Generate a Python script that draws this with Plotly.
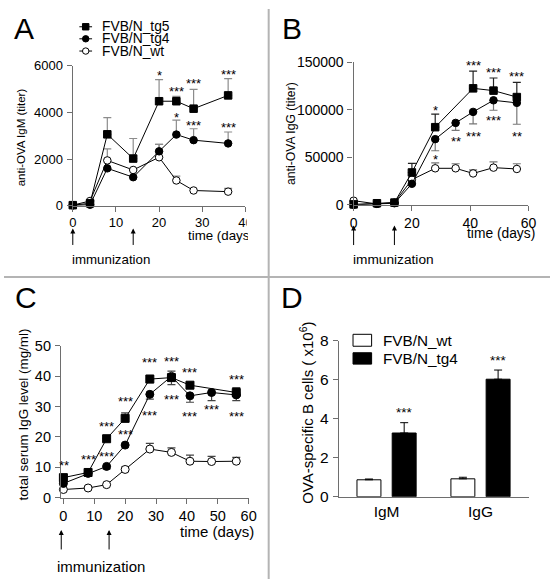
import plotly.graph_objects as go

W, H = 558, 587
FONT = "Liberation Sans, Arial, Helvetica, sans-serif"
AX = "#6e6e6e"

def px(x):
    return x / W

def py(y):
    return 1 - y / H

SERIES = ["FVB/N_tg5", "FVB/N_tg4", "FVB/N_wt"]

# ---------------- Panel A: anti-OVA IgM (titer) ----------------
a_days = [0, 4, 8, 14, 20, 24, 28, 36]
a_tg5 = [20, 100, 3060, 2020, 4480, 4480, 4160, 4730]
a_tg5_err = [0, 0, 720, 860, 930, 210, 830, 720]
a_tg4 = [10, 40, 1600, 1220, 2330, 3050, 2810, 2670]
a_tg4_err = [0, 0, 0, 0, 300, 620, 490, 490]
a_wt = [20, 200, 1940, 1530, 2075, 1080, 650, 600]
a_wt_err = [0, 0, 500, 0, 550, 190, 0, 140]
a_stars_x = [20, 24, 28, 36, 24, 28, 36]
a_stars_y = [5730, 5030, 5380, 5770, 3925, 3575, 3510]
a_stars_t = ["*", "***", "***", "***", "*", "***", "***"]

# ---------------- Panel B: anti-OVA IgG (titer) ----------------
b_days_tg5 = [0, 8, 14, 20, 28, 41, 48, 56]
b_tg5 = [500, 1700, 2400, 34100, 81800, 122700, 120300, 113500]
b_tg5_err = [0, 0, 0, 9500, 13700, 18100, 13300, 15400]
b_days = [0, 8, 14, 20, 28, 35, 41, 48, 56]
b_tg4 = [0, 1000, 1700, 22200, 69200, 86300, 97900, 110100, 107400]
b_tg4_errm = [0, 0, 0, 0, 12200, 7900, 12600, 10500, 22500]
b_wt = [4400, 1000, 2400, 26600, 38500, 38500, 33100, 39200, 37800]
b_wt_err = [0, 0, 0, 0, 5800, 4800, 3700, 6100, 5500]
b_stars_x = [28, 41, 48, 56, 28, 35, 41, 48, 56]
b_stars_y = [103000, 150000, 143200, 139100, 51000, 70600, 76100, 92800, 76100]
b_stars_t = ["*", "***", "***", "***", "*", "**", "***", "***", "**"]

# ---------------- Panel C: total serum IgG level (mg/ml) ----------------
c_days_tg5 = [0, 8, 14, 20, 28, 35, 41, 56]
c_tg5 = [6.6, 8.3, 19.4, 26.1, 39.0, 39.5, 37.0, 34.6]
c_tg5_err = [0, 0, 0, 1.8, 1.2, 2.1, 0, 1.6]
c_days = [0, 8, 14, 20, 28, 35, 41, 48, 56]
c_tg4 = [4.7, 8.0, 10.3, 17.3, 34.0, 39.9, 33.5, 34.6, 33.8]
c_tg4_errm = [0, 0, 0.8, 0, 1.6, 2.7, 2.1, 2.7, 1.9]
c_wt = [2.7, 3.2, 4.3, 9.3, 16.0, 14.9, 12.0, 11.9, 12.0]
c_wt_err = [0, 0, 0, 0.8, 1.9, 1.5, 2.0, 1.7, 1.3]
c_stars_x = [0.3, 8, 14, 14, 20, 20, 28, 28, 35, 35, 41, 41, 48, 56, 56]
c_stars_y = [11.7, 13.6, 14.7, 24.5, 32.7, 21.8, 45.7, 28.2, 46.1, 33.5, 42.3, 28.0, 30.1, 39.9, 27.7]
c_stars_t = ["**"] + ["***"] * 14

# ---------------- Panel D: OVA-specific B cells ----------------
d_cats = ["IgM", "IgG"]
d_wt = [0.87, 0.92]
d_wt_err = [0.04, 0.08]
d_tg4 = [3.27, 6.03]
d_tg4_err = [0.53, 0.47]
d_stars_y = [4.5, 7.17]

imm_days = [0, 14]
imm_days_c = [-0.7, 14.8]

fig = go.Figure()

STYLE = {
    "FVB/N_tg5": dict(symbol="square", color="black"),
    "FVB/N_tg4": dict(symbol="circle", color="black"),
    "FVB/N_wt": dict(symbol="circle", color="white"),
}


def add_line(xa, ya, name, days, vals, plus, minus, ecolor, msize):
    st = STYLE[name]
    fig.add_trace(go.Scatter(
        x=days, y=vals, mode="lines+markers", name=name, showlegend=False,
        xaxis=xa, yaxis=ya, cliponaxis=False,
        line=dict(color="black", width=1),
        marker=dict(symbol=st["symbol"], size=msize, color=st["color"],
                    line=dict(color="black", width=1)),
        error_y=dict(type="data", symmetric=False,
                     array=plus if plus else [0] * len(vals),
                     arrayminus=minus if minus else [0] * len(vals),
                     color=ecolor, thickness=1.2, width=4),
    ))

# Panel A
add_line("x", "y", "FVB/N_wt", a_days, a_wt, a_wt_err, None, "#8c8c8c", 7.5)
add_line("x", "y", "FVB/N_tg4", a_days, a_tg4, a_tg4_err, None, "#8c8c8c", 7.5)
add_line("x", "y", "FVB/N_tg5", a_days, a_tg5, a_tg5_err, None, "#8c8c8c", 7.5)
# Panel B
add_line("x2", "y2", "FVB/N_wt", b_days, b_wt, b_wt_err, None, "#777777", 7.5)
add_line("x2", "y2", "FVB/N_tg4", b_days, b_tg4, None, b_tg4_errm, "#777777", 7.5)
add_line("x2", "y2", "FVB/N_tg5", b_days_tg5, b_tg5, b_tg5_err, None, "#222222", 7.5)
# Panel C
add_line("x3", "y3", "FVB/N_wt", c_days, c_wt, c_wt_err, None, "#444444", 8)
add_line("x3", "y3", "FVB/N_tg4", c_days, c_tg4, None, c_tg4_errm, "#444444", 8)
add_line("x3", "y3", "FVB/N_tg5", c_days_tg5, c_tg5, c_tg5_err, None, "#444444", 8)

# Panel D bars
fig.add_trace(go.Bar(
    x=[0, 1], y=d_wt, name="FVB/N_wt", showlegend=False, xaxis="x4", yaxis="y4",
    marker=dict(color="white", line=dict(color="black", width=1)),
    error_y=dict(type="data", symmetric=False, array=d_wt_err, arrayminus=[0, 0],
                 color="black", thickness=1, width=4),
))
fig.add_trace(go.Bar(
    x=[0, 1], y=d_tg4, name="FVB/N_tg4", showlegend=False, xaxis="x4", yaxis="y4",
    marker=dict(color="black", line=dict(color="black", width=1)),
    error_y=dict(type="data", symmetric=False, array=d_tg4_err, arrayminus=[0, 0],
                 color="black", thickness=1, width=4),
))


def axis(dom, rng, fs, **kw):
    d = dict(domain=dom, range=rng, showline=True, linecolor=AX, linewidth=1.3,
             ticks="outside", ticklen=5, tickwidth=1.3, tickcolor=AX,
             showgrid=False, zeroline=False, fixedrange=True,
             tickfont=dict(family=FONT, size=fs, color="black"))
    d.update(kw)
    return d

fig.update_layout(
    width=W, height=H, margin=dict(l=0, r=0, t=0, b=0),
    paper_bgcolor="white", plot_bgcolor="rgba(0,0,0,0)",
    font=dict(family=FONT, color="black"),
    showlegend=False, barmode="group", bargap=0.25, bargroupgap=0.32,
    xaxis=axis([px(70.3), px(246.7)], [0, 40], 13, anchor="y", dtick=10, tick0=0),
    yaxis=axis([py(202.5), py(58.5)], [0, 6000], 13, anchor="x", dtick=2000,
               tickformat="d", ticklabelstandoff=1),
    xaxis2=axis([px(357.3), px(536)], [0, 60], 14, anchor="y2", dtick=20, tick0=0),
    yaxis2=axis([py(201.7), py(55)], [0, 150000], 14, anchor="x2", dtick=50000,
                tickformat="d", ticklabelstandoff=1),
    xaxis3=axis([px(58.3), px(250)], [-0.76, 60], 14.5, anchor="y3", tickvals=[0, 10, 20, 30, 40, 50, 60]),
    yaxis3=axis([py(503.3), py(346.7)], [0, 50], 14.5, anchor="x3", dtick=10, ticklabelstandoff=1),
    xaxis4=axis([px(342.3), px(536.7)], [-0.507, 1.518], 15.5, anchor="y4",
                tickvals=[0, 1], ticktext=d_cats, ticks=""),
    yaxis4=axis([py(502.3), py(341.7)], [0, 8], 15.5, anchor="x4", dtick=2, ticklabelstandoff=1),
)

ann = []
shapes = []

def text(x, y, t, size, xanchor="center", yanchor="middle", **kw):
    d = dict(x=px(x), y=py(y), xref="paper", yref="paper", text=t, showarrow=False,
             font=dict(family=FONT, size=size, color="black"),
             xanchor=xanchor, yanchor=yanchor)
    d.update(kw)
    ann.append(d)

# panel letters
for L, x, y in [("A", 20, 20), ("B", 294, 20), ("C", 22, 297), ("D", 294, 297)]:
    text(x, y, L, 30)

# y titles
text(17.5, 132, "anti-OVA IgM (titer)", 11.5, textangle=-90)
text(294, 128, "anti-OVA IgG (titer)", 12.2, textangle=-90)
text(20, 418, "total serum IgG level (mg/ml)", 13.4, textangle=-90)
text(309.5, 416, "OVA-specific B cells ( x10<sup>6</sup>)", 15, textangle=-90)

# time labels
text(186.5, 233.3, "time (days)", 13.3, xanchor="left", width=60, align="left")
text(545, 231.7, "time (days)", 13.8, xanchor="right")
text(257.5, 538.3, "time (days)", 15, xanchor="right")

# immunization
text(109, 258, "immunization", 13.3)
text(398.5, 258, "immunization", 13.7)
text(99.5, 574.3, "immunization", 15)

# arrows
def arrows(xref, days, head_py, tail_len):
    for d in days:
        ann.append(dict(x=d, y=py(head_py), xref=xref, yref="paper", text="",
                        showarrow=True, ax=0, ay=tail_len, axref="pixel", ayref="pixel",
                        arrowhead=2, arrowsize=1, arrowwidth=1, arrowcolor="black"))

arrows("x", imm_days, 226, 18)
arrows("x2", imm_days, 223, 21)
arrows("x3", imm_days_c, 536.5, 21)

# significance stars
def stars(xr, yr, xs, ys, ts, size):
    for x, y, t in zip(xs, ys, ts):
        ann.append(dict(x=x, y=y, xref=xr, yref=yr, text=t, showarrow=False,
                        font=dict(family=FONT, size=size, color="black"),
                        xanchor="center", yanchor="middle", yshift=-3.5))

stars("x", "y", a_stars_x, a_stars_y, a_stars_t, 13)
stars("x2", "y2", b_stars_x, b_stars_y, b_stars_t, 13)
stars("x3", "y3", c_stars_x, c_stars_y, c_stars_t, 13)
stars("x4", "y4", [0.1875, 1.1875], d_stars_y, ["***", "***"], 13.5)

# legend A (manual)
leg_rows = [18.3, 30.7, 43.3]
for name, yy in zip(SERIES, leg_rows):
    shapes.append(dict(type="line", xref="paper", yref="paper", x0=px(77), x1=px(90),
                       y0=py(yy), y1=py(yy), line=dict(color="black", width=1)))
    st = STYLE[name]
    r = 3.3
    shapes.append(dict(type="rect" if st["symbol"] == "square" else "circle",
                       xref="paper", yref="paper", x0=px(83.5 - r), x1=px(83.5 + r),
                       y0=py(yy + r), y1=py(yy - r), fillcolor=st["color"],
                       line=dict(color="black", width=1)))
    text(98, yy, name, 13.8, xanchor="left")

# legend D (manual)
for name, (y0, y1), fc in [("FVB/N_wt", (335, 347.3), "white"), ("FVB/N_tg4", (354, 365.7), "black")]:
    shapes.append(dict(type="rect", xref="paper", yref="paper", x0=px(356.7), x1=px(375.7),
                       y0=py(y1), y1=py(y0), fillcolor=fc, line=dict(color="black", width=1)))
    text(385, (y0 + y1) / 2, name, 15.3, xanchor="left")

# clip region at right of panel A (as in the reference)
shapes.append(dict(type="rect", xref="paper", yref="paper", x0=px(248), x1=px(269),
                   y0=py(250), y1=py(208), fillcolor="white", line=dict(width=0), layer="above"))

# panel dividers
shapes.append(dict(type="line", xref="paper", yref="paper", x0=px(270.5), x1=px(270.5),
                   y0=0, y1=1, line=dict(color="#b4b4b4", width=2), layer="above"))
shapes.append(dict(type="line", xref="paper", yref="paper", x0=0, x1=1,
                   y0=py(276), y1=py(276), line=dict(color="#b4b4b4", width=2), layer="above"))

fig.update_layout(annotations=ann, shapes=shapes)
fig.write_html(
    "out.html",
    config={"displayModeBar": False},
    post_script="document.body.style.margin='0';document.body.style.overflow='hidden';",
)
